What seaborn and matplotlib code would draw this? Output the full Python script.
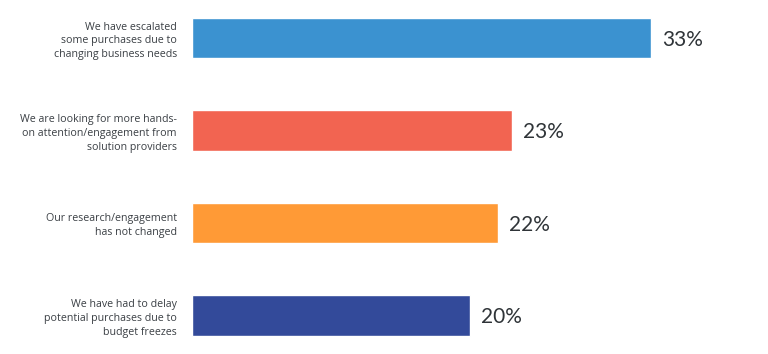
import matplotlib
matplotlib.use("Agg")
import matplotlib.pyplot as plt
import seaborn as sns
import pandas as pd

categories = [
    "We have escalated\nsome purchases due to\nchanging business needs",
    "We are looking for more hands-\non attention/engagement from\nsolution providers",
    "Our research/engagement\nhas not changed",
    "We have had to delay\npotential purchases due to\nbudget freezes",
]
values = [33, 23, 22, 20]
colors = ["#3B92D0", "#F26451", "#FF9A36", "#334A9A"]
value_labels = ["33%", "23%", "22%", "20%"]

sns.set_theme(style="white")
plt.rcParams["font.family"] = ["Lato", "DejaVu Sans"]

df = pd.DataFrame({"category": categories, "value": values})

fig = plt.figure(figsize=(7.68, 3.54), dpi=100)
ax = fig.add_axes([192 / 768, 0, 576 / 768, 1])

sns.barplot(data=df, x="value", y="category", hue="category", palette=colors,
            orient="h", width=0.443, legend=False, ax=ax, saturation=1)

ax.set_xlim(0, 576 / 13.9)
ax.set_ylim(3 + (354 - 315.5) / 92.5, -38 / 92.5)

for i, (v, lab) in enumerate(zip(values, value_labels)):
    ax.text(v + 11 / 13.9, i + 0.02, lab, va="center", ha="left", fontsize=15,
            color="#2f3438")

ax.set_xlabel("")
ax.set_ylabel("")
ax.set_xticks([])
ax.tick_params(axis="y", length=0, pad=10.8, labelsize=7.7, labelcolor="#3a3f44")
for t in ax.get_yticklabels():
    t.set_linespacing(1.35)
    t.set_horizontalalignment("right")
    t.set_fontfamily(["Open Sans", "DejaVu Sans"])
sns.despine(ax=ax, left=True, bottom=True)

fig.savefig("out.png", dpi=100)
